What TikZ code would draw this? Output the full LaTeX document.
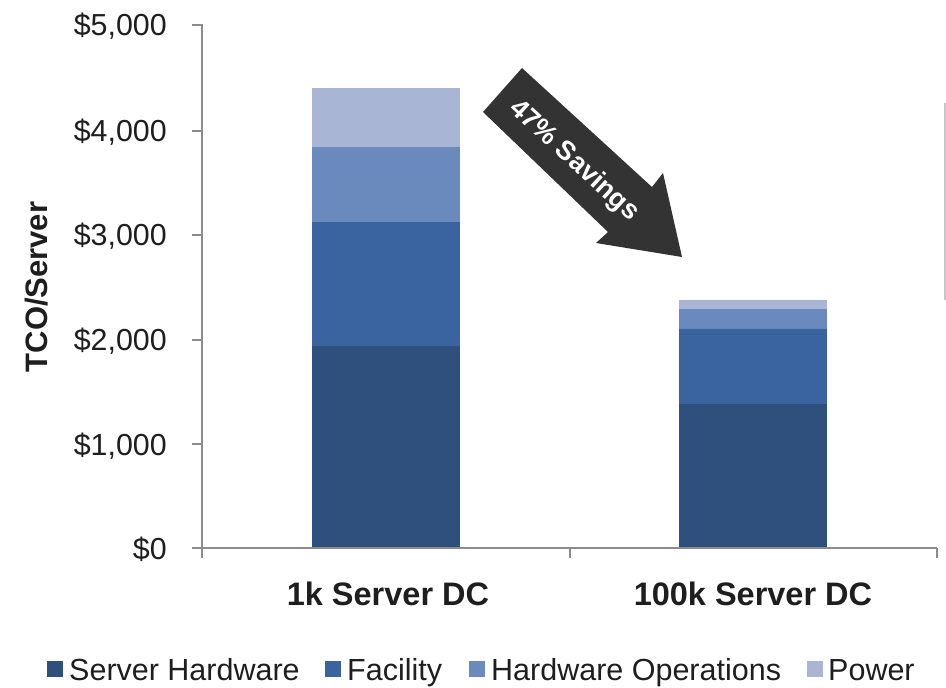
\documentclass[tikz,border=0pt]{standalone}
\usepackage{fontspec}
\setmainfont{Liberation Sans}
\definecolor{sh}{HTML}{2F4F7D}
\definecolor{fac}{HTML}{3A64A0}
\definecolor{hwo}{HTML}{6A89BD}
\definecolor{pwr}{HTML}{A9B5D5}
\definecolor{arr}{HTML}{333333}
\definecolor{axisc}{HTML}{8C8C8C}
\definecolor{txt}{HTML}{1E1E1E}
\begin{document}
\begin{tikzpicture}[x=1pt,y=-1pt,
  axisline/.style={draw=axisc,line width=2pt},
  ticklbl/.style={inner sep=0pt,anchor=base east,text=txt,font=\fontsize{30.4}{34}\selectfont},
  catlbl/.style={inner sep=0pt,anchor=base,text=txt,font=\fontsize{32.5}{38}\selectfont\bfseries},
  leglbl/.style={inner sep=0pt,anchor=base west,text=txt,font=\fontsize{30.5}{36}\selectfont},
  segment/.style={draw=none}]
\useasboundingbox (0,0) rectangle (946,688);
% bars
\fill[sh]  (312,548) rectangle (460,346);
\fill[fac] (312,346) rectangle (460,222);
\fill[hwo] (312,222) rectangle (460,147);
\fill[pwr] (312,147) rectangle (460,88);
\fill[sh]  (679,548) rectangle (827,404);
\fill[fac] (679,404) rectangle (827,329);
\fill[hwo] (679,329) rectangle (827,309);
\fill[pwr] (679,309) rectangle (827,300);
% axes
\draw[axisline] (192,25) -- (202,25) -- (202,558);
\foreach \yy in {130.6,235.2,339.8,444.4,548} \draw[axisline] (192,\yy) -- (202,\yy);
\draw[axisline] (192,548) -- (937,548);
\foreach \xx in {570,937} \draw[axisline] (\xx,548) -- (\xx,558);
% right artefact line
\draw[gray!45,line width=2pt] (945,103) -- (945,300);
% tick labels
\node[ticklbl] (t5) at (167,35.5) {\$5,000};
\node[ticklbl] (t4) at (167,141) {\$4,000};
\node[ticklbl] (t3) at (167,245.5) {\$3,000};
\node[ticklbl] (t2) at (167,350) {\$2,000};
\node[ticklbl] (t1) at (167,455) {\$1,000};
\node[ticklbl] (t0) at (167,559) {\$0};
% axis title
\node[inner sep=0pt,anchor=base,rotate=90,text=txt,font=\fontsize{31}{36}\selectfont\bfseries] (ytitle) at (47,287) {TCO/Server};
% category labels
\node[catlbl] (c1) at (388,605) {1k Server DC};
\node[catlbl] (c2) at (753,605) {100k Server DC};
% savings arrow
\fill[arr] (522,68) -- (652,187) -- (663,173) -- (682,257) -- (596,243) -- (608,232) -- (483,112) -- cycle;
\node[inner sep=0pt,rotate=-42.5,text=white,font=\fontsize{27}{32}\selectfont\bfseries] (sav) at (574,161) {47\% Savings};
% legend
\fill[sh]  (47,661) rectangle (63,677);
\node[leglbl] (l1) at (69,680) {Server Hardware};
\fill[fac] (325,661) rectangle (341,677);
\node[leglbl] (l2) at (347,680) {Facility};
\fill[hwo] (469,661) rectangle (485,677);
\node[leglbl] (l3) at (491,680) {Hardware Operations};
\fill[pwr] (807,661) rectangle (823,677);
\node[leglbl] (l4) at (828,680) {Power};
\end{tikzpicture}
\end{document}
